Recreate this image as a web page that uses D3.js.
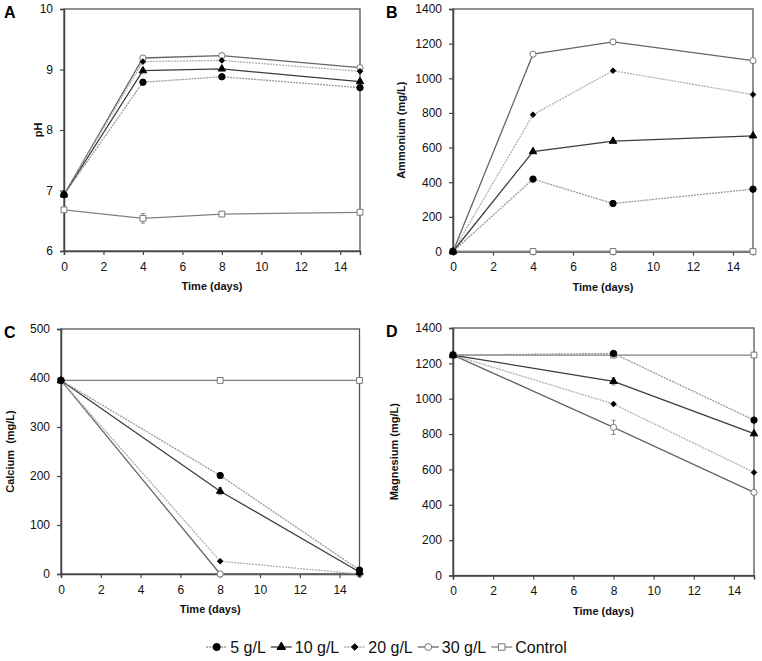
<!DOCTYPE html>
<html>
<head>
<meta charset="utf-8">
<script src="https://cdn.jsdelivr.net/npm/d3@7/dist/d3.min.js"></script>
<style>
  body { margin: 0; background: #fff; }
  svg { font-family: Arial, "Liberation Sans", sans-serif; }
</style>
</head>
<body>
<div id="chart"></div>
<script>
// series / categories
const seriesNames = ["5 g/L", "10 g/L", "20 g/L", "30 g/L", "Control"];
const daysAB = [0, 4, 8, 15];
const daysCD = [0, 8, 15];
const xTicks = [0, 2, 4, 6, 8, 10, 12, 14];

// A - pH
const ph5    = [6.93, 8.79, 8.88, 8.70];
const ph10   = [6.93, 8.98, 9.01, 8.80];
const ph20   = [6.93, 9.13, 9.15, 8.97];
const ph30   = [6.93, 9.19, 9.23, 9.03];
const phCtrl = [6.68, 6.54, 6.61, 6.64];
const phCtrlErr = [0, 0.08, 0, 0];

// B - ammonium (mg/L)
const amm5    = [0, 418, 277, 360];
const amm10   = [0, 577, 637, 668];
const amm20   = [0, 790, 1044, 906];
const amm30   = [0, 1139, 1210, 1102];
const ammCtrl = [0, 0, 0, 0];

// C - calcium (mg/L)
const ca5    = [395, 201, 8];
const ca10   = [395, 169, 4];
const ca20   = [395, 26, 0];
const ca30   = [395, 0, 0];
const caCtrl = [395, 395, 395];
const ca10Err = [0, 7, 0];

// D - magnesium (mg/L)
const mg5    = [1247, 1256, 879];
const mg10   = [1247, 1098, 802];
const mg20   = [1247, 970, 583];
const mg30   = [1247, 838, 470];
const mgCtrl = [1247, 1247, 1247];
const mg10Err = [0, 20, 0];
const mg30Err = [0, 40, 0];

const zero3 = [0, 0, 0], zero4 = [0, 0, 0, 0];

// look of each series (same order as seriesNames)
const lineColors = ["#9a9a9a", "#3c3c3c", "#b0b0b0", "#666", "#808080"];
const lineDash = ["2,1", null, "2,1", null, null];
const symbols = [d3.symbolCircle, d3.symbolTriangle, d3.symbolDiamond2, d3.symbolCircle, d3.symbolSquare];
const symSize = [32, 24, 20, 30, 34];
const symFill = ["#000", "#000", "#000", "#fff", "#fff"];
const symStroke = ["#000", "#000", "#000", "#777", "#777"];

const panels = [
  {letter: "A", box: [64, 9, 360, 251], yDomain: [6, 10], yTicks: [6, 7, 8, 9, 10],
   yTitle: "pH", titleX: 42, days: daysAB,
   values: [ph5, ph10, ph20, ph30, phCtrl], errs: [zero4, zero4, zero4, zero4, phCtrlErr]},
  {letter: "B", box: [453, 9, 753, 251.5], yDomain: [0, 1400], yTicks: d3.range(0, 1401, 200),
   yTitle: "Ammonium (mg/L)", titleX: 405, days: daysAB,
   values: [amm5, amm10, amm20, amm30, ammCtrl], errs: [zero4, zero4, zero4, zero4, zero4]},
  {letter: "C", box: [61, 329, 359.5, 574], yDomain: [0, 500], yTicks: d3.range(0, 501, 100),
   yTitle: "Calcium  (mg/L)", titleX: 14, days: daysCD,
   values: [ca5, ca10, ca20, ca30, caCtrl], errs: [zero3, ca10Err, zero3, zero3, zero3]},
  {letter: "D", box: [453, 328, 754, 575.5], yDomain: [0, 1400], yTicks: d3.range(0, 1401, 200),
   yTitle: "Magnesium (mg/L)", titleX: 398, days: daysCD,
   values: [mg5, mg10, mg20, mg30, mgCtrl], errs: [zero3, mg10Err, zero3, mg30Err, zero3]}
];

const svgWidth = 762, svgHeight = 661;
const svg = d3.select("#chart").append("svg")
    .attr("width", svgWidth)
    .attr("height", svgHeight);

// draw order: control first so black markers sit on top
const drawOrder = [4, 3, 2, 1, 0];

panels.forEach(function(p) {
  const [x0, y0, x1, y1] = p.box;
  const x = d3.scaleLinear().domain([0, 15]).range([x0, x1]);
  const y = d3.scaleLinear().domain(p.yDomain).range([y1, y0]);

  // frame
  svg.append("rect")
      .attr("x", x0).attr("y", y0)
      .attr("width", x1 - x0).attr("height", y1 - y0)
      .attr("fill", "none")
      .attr("stroke", "#555")
      .attr("stroke-width", 1.3);

  const xAxis = svg.append("g")
      .attr("transform", "translate(0," + y1 + ")")
      .call(d3.axisBottom(x).tickValues(xTicks).tickFormat(d3.format("d")).tickSize(4).tickPadding(7));
  const yAxis = svg.append("g")
      .attr("transform", "translate(" + x0 + ",0)")
      .call(d3.axisLeft(y).tickValues(p.yTicks).tickFormat(d3.format("d")).tickSize(4).tickPadding(7));
  [xAxis, yAxis].forEach(function(a) {
    a.select(".domain").attr("stroke", "#444").attr("stroke-width", 1.5);
    a.selectAll(".tick line").attr("stroke", "#444").attr("stroke-width", 1.2);
    a.selectAll(".tick text")
        .attr("font-size", "12px")
        .attr("font-family", "Arial, 'Liberation Sans', sans-serif")
        .attr("fill", "#111");
  });

  // titles
  svg.append("text")
      .attr("x", (x0 + x1) / 2)
      .attr("y", y1 + 39)
      .attr("text-anchor", "middle")
      .attr("font-size", "11px")
      .attr("font-weight", "bold")
      .attr("fill", "#111")
      .text("Time (days)");

  svg.append("text")
      .attr("transform", "translate(" + p.titleX + "," + ((y0 + y1) / 2) + ") rotate(-90)")
      .attr("text-anchor", "middle")
      .attr("font-size", "11px")
      .attr("font-weight", "bold")
      .attr("fill", "#111")
      .style("white-space", "pre")
      .text(p.yTitle);

  svg.append("text")
      .attr("x", x0 < 100 ? 4 : 386)
      .attr("y", y0 + 9)
      .attr("font-size", "16px")
      .attr("font-weight", "bold")
      .attr("fill", "#000")
      .text(p.letter);

  const line = d3.line()
      .x(function(d) { return x(d[0]); })
      .y(function(d) { return y(d[1]); });

  drawOrder.forEach(function(s) {
    const pts = p.days.map(function(d, i) { return [d, p.values[s][i], p.errs[s][i]]; });

    svg.append("path")
        .datum(pts)
        .attr("d", line)
        .attr("fill", "none")
        .attr("stroke", lineColors[s])
        .attr("stroke-width", 1.3)
        .attr("stroke-dasharray", lineDash[s]);

    // error bars
    pts.filter(function(d) { return d[2] > 0; }).forEach(function(d) {
      const cx = x(d[0]);
      svg.append("path")
          .attr("d", "M" + cx + "," + y(d[1] - d[2]) + "V" + y(d[1] + d[2]) +
                     "M" + (cx - 2) + "," + y(d[1] - d[2]) + "h4" +
                     "M" + (cx - 2) + "," + y(d[1] + d[2]) + "h4")
          .attr("stroke", "#888")
          .attr("stroke-width", 1)
          .attr("fill", "none");
    });

    svg.selectAll(null)
        .data(pts)
        .enter()
        .append("path")
        .attr("transform", function(d) { return "translate(" + x(d[0]) + "," + y(d[1]) + ")"; })
        .attr("d", d3.symbol().type(symbols[s]).size(symSize[s]))
        .attr("fill", symFill[s])
        .attr("stroke", symStroke[s])
        .attr("stroke-width", 1);
  });
});

// legend
const legend = svg.append("g");
let lx = 0;
seriesNames.forEach(function(name, s) {
  const g = legend.append("g").attr("transform", "translate(" + lx + ",0)");
  g.append("line")
      .attr("x1", 0).attr("x2", 21)
      .attr("y1", 0).attr("y2", 0)
      .attr("stroke", lineColors[s])
      .attr("stroke-width", 1.3)
      .attr("stroke-dasharray", lineDash[s]);
  g.append("path")
      .attr("transform", "translate(10.5,0)")
      .attr("d", d3.symbol().type(symbols[s]).size(symSize[s] + 8))
      .attr("fill", symFill[s])
      .attr("stroke", symStroke[s]);
  const t = g.append("text")
      .attr("x", 24)
      .attr("y", 6)
      .attr("font-size", "16px")
      .attr("fill", "#111")
      .text(name);
  lx += 24 + t.node().getComputedTextLength() + 5;
});
legend.attr("transform", "translate(" + (389 - lx / 2) + ",647)");

</script>
</body>
</html>
